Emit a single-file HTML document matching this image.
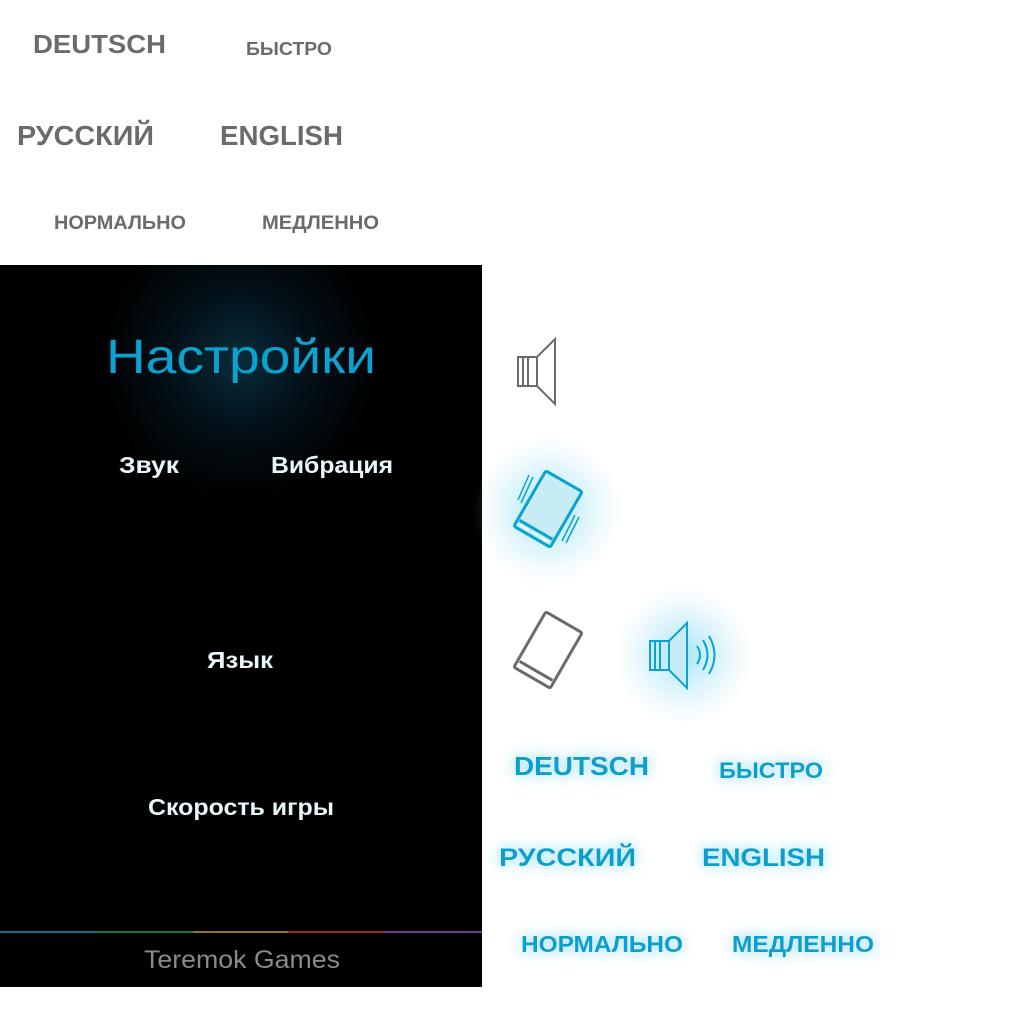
<!DOCTYPE html>
<html><head><meta charset="utf-8"><style>
html,body{margin:0;padding:0;background:#fff;width:1024px;height:1024px;overflow:hidden}
svg{display:block}
text{font-family:"Liberation Sans","DejaVu Sans",sans-serif}
</style></head><body>
<svg width="1024" height="1024" viewBox="0 0 1024 1024" xmlns="http://www.w3.org/2000/svg">
<defs>
<radialGradient id="rg" cx="240" cy="360" r="140" gradientUnits="userSpaceOnUse">
<stop offset="0" stop-color="#082c3c"/><stop offset="0.5" stop-color="#031018"/><stop offset="1" stop-color="#000"/>
</radialGradient>
<radialGradient id="glow"><stop offset="0" stop-color="#5fd0f0" stop-opacity="0.55"/><stop offset="0.6" stop-color="#8fdcf2" stop-opacity="0.25"/><stop offset="1" stop-color="#bfeaf7" stop-opacity="0"/></radialGradient>
<filter id="tg" x="-30%" y="-80%" width="160%" height="260%"><feGaussianBlur in="SourceAlpha" stdDeviation="7" result="b"/><feFlood flood-color="#7fd6f2" flood-opacity="0.6"/><feComposite in2="b" operator="in"/><feMerge><feMergeNode/><feMergeNode/><feMergeNode in="SourceGraphic"/></feMerge></filter>
</defs>
<g fill="#6b6b6b" font-weight="bold">
<text x="33" y="53" font-size="26" textLength="133" lengthAdjust="spacingAndGlyphs">DEUTSCH</text>
<text x="246" y="55" font-size="18" textLength="86" lengthAdjust="spacingAndGlyphs">БЫСТРО</text>
<text x="17" y="145" font-size="28" textLength="137" lengthAdjust="spacingAndGlyphs">РУССКИЙ</text>
<text x="220" y="145" font-size="28" textLength="123" lengthAdjust="spacingAndGlyphs">ENGLISH</text>
<text x="54" y="229" font-size="19" textLength="132" lengthAdjust="spacingAndGlyphs">НОРМАЛЬНО</text>
<text x="262" y="229" font-size="19" textLength="117" lengthAdjust="spacingAndGlyphs">МЕДЛЕННО</text>
</g>
<rect x="0" y="265" width="482" height="722" fill="#000"/>
<rect x="0" y="265" width="482" height="300" fill="url(#rg)"/>
<text x="106" y="373" font-size="48" fill="#0aa3d0" textLength="270" lengthAdjust="spacingAndGlyphs">Настройки</text>
<g fill="#e9f6fa" font-weight="bold">
<text x="119" y="473" font-size="23" textLength="60" lengthAdjust="spacingAndGlyphs">Звук</text>
<text x="271" y="473" font-size="23" textLength="122" lengthAdjust="spacingAndGlyphs">Вибрация</text>
<text x="207" y="668" font-size="23" textLength="66" lengthAdjust="spacingAndGlyphs">Язык</text>
<text x="148" y="815" font-size="23" textLength="186" lengthAdjust="spacingAndGlyphs">Скорость игры</text>
</g>
<rect x="0" y="931" width="97" height="2" fill="#0f6f8a"/>
<rect x="97" y="931" width="96" height="2" fill="#137a3a"/>
<rect x="193" y="931" width="95" height="2" fill="#957418"/>
<rect x="288" y="931" width="96" height="2" fill="#9a2d1e"/>
<rect x="384" y="931" width="98" height="2" fill="#6a3b93"/>
<text x="144" y="968" font-size="25" fill="#8a8a8a" textLength="196" lengthAdjust="spacingAndGlyphs">Teremok Games</text>
<g fill="none" stroke="#6b6b6b" stroke-width="2">
<path d="M518 357 H537 L555 339 V404 L537 386 H518 Z"/>
<path d="M523 357 V386 M528 357 V386 M537 357 V386"/>
</g>
<circle cx="548" cy="510" r="75" fill="url(#glow)"/>
<g transform="rotate(30 548 509)">
<rect x="527" y="477" width="42" height="64" rx="2" fill="#c8ecf6" stroke="#0aa3d0" stroke-width="3"/>
<path d="M529 533 H567" stroke="#0aa3d0" stroke-width="3"/>
<path d="M532 537 H542 M545 537 H552 M555 537 H565" stroke="#fff" stroke-width="1.5"/>
</g>
<g stroke="#0aa3d0" stroke-width="1.5">
<path d="M529 475 L518 500 M533 477 L521 503"/>
<path d="M575 515 L562 541 M579 517 L566 543"/>
</g>
<g transform="rotate(30 548 650)">
<rect x="527" y="618" width="42" height="64" rx="2" fill="none" stroke="#6b6b6b" stroke-width="3"/>
<path d="M529 674 H567" stroke="#6b6b6b" stroke-width="3"/>
<path d="M532 678 H542 M545 678 H552 M555 678 H565" stroke="#fff" stroke-width="1.5"/>
</g>
<circle cx="684" cy="655" r="70" fill="url(#glow)"/>
<g fill="none" stroke="#0aa3d0" stroke-width="2">
<path d="M650 641 H669 L687 623 V688 L669 670 H650 Z" fill="#c8ecf6"/>
<path d="M655 641 V670 M660 641 V670 M669 641 V670"/>
<path d="M697 646 Q703 655 697 664"/>
<path d="M703 640 Q712 655 703 670"/>
<path d="M709 636 Q720 655 709 674"/>
</g>
<g fill="#0a9fcc" font-weight="bold" filter="url(#tg)">
<text x="514" y="775" font-size="26" textLength="135" lengthAdjust="spacingAndGlyphs">DEUTSCH</text>
<text x="719" y="778" font-size="22" textLength="104" lengthAdjust="spacingAndGlyphs">БЫСТРО</text>
<text x="499" y="866" font-size="25" textLength="137" lengthAdjust="spacingAndGlyphs">РУССКИЙ</text>
<text x="702" y="866" font-size="25" textLength="123" lengthAdjust="spacingAndGlyphs">ENGLISH</text>
<text x="521" y="952" font-size="23" textLength="162" lengthAdjust="spacingAndGlyphs">НОРМАЛЬНО</text>
<text x="732" y="952" font-size="23" textLength="142" lengthAdjust="spacingAndGlyphs">МЕДЛЕННО</text>
</g>
</svg>
</body></html>
